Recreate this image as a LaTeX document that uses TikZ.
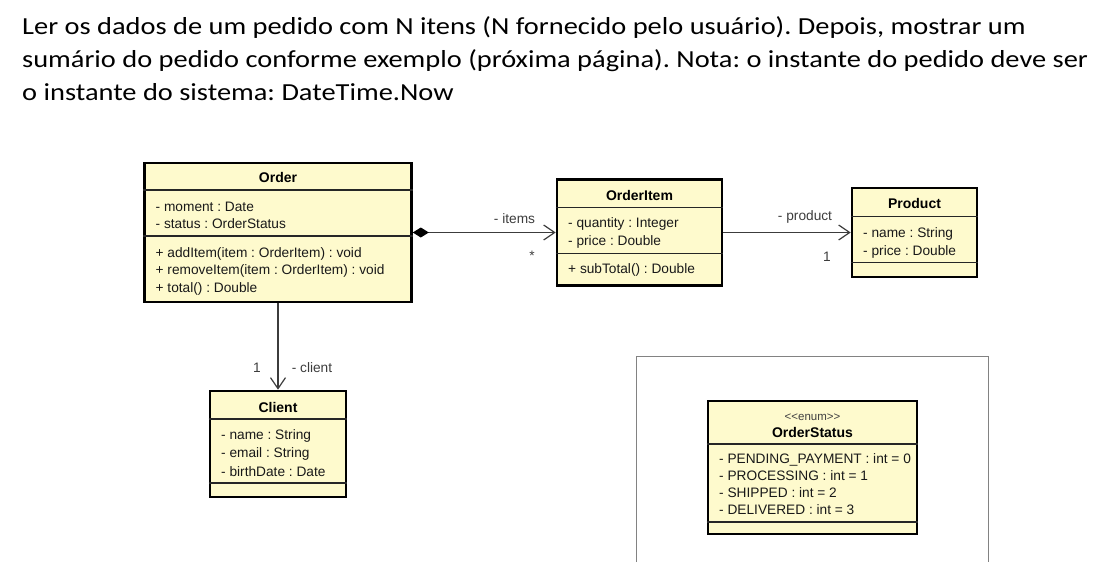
\documentclass[tikz,border=0pt]{standalone}
\usepackage{fontspec}
\setmainfont{Liberation Sans}
\newfontfamily\notefont{Carlito}[FakeStretch=1.16]
\usetikzlibrary{arrows.meta}
\definecolor{classfill}{RGB}{254,250,205}
\definecolor{linkgray}{RGB}{60,60,60}
\definecolor{framegray}{RGB}{130,130,130}
\frenchspacing

\begin{document}
\begin{tikzpicture}[x=1pt,y=-1pt]
        % styles
        \tikzstyle{classbox}=[draw=black, line width=2.6pt, fill=classfill, inner sep=0pt]
        \tikzstyle{divider}=[line width=1.1pt, black!85]
        \tikzstyle{classname}=[font=\fontsize{14}{16}\selectfont\bfseries, anchor=base, inner sep=0pt]
        \tikzstyle{member}=[font=\fontsize{13.7}{16}\selectfont, anchor=base west, inner sep=0pt, text=black!90]
        \tikzstyle{rolelabel}=[font=\fontsize{13.7}{16}\selectfont, anchor=base, inner sep=0pt, text=linkgray]
        \tikzstyle{notetext}=[font=\notefont\fontsize{24.5}{30}\selectfont, anchor=base west, inner sep=0pt]
        \tikzstyle{assoc}=[draw=linkgray, line width=1.2pt, -{Straight Barb[length=11pt,width=15pt]}]
        \tikzstyle{compos}=[assoc, {Diamond[length=16pt,width=10pt,color=black]}-{Straight Barb[length=11pt,width=15pt]}]

        \useasboundingbox (0,0) rectangle (1107,562);

        % task text
        \node[notetext] (line1) at (22,34) {Ler os dados de um pedido com N itens (N fornecido pelo usuário). Depois, mostrar um};
        \node[notetext] (line2) at (22,67) {sumário do pedido conforme exemplo (próxima página). Nota: o instante do pedido deve ser};
        \node[notetext] (line3) at (22,100) {o instante do sistema: DateTime.Now};

        % enum frame
        \draw[framegray, line width=1pt] (636.5,562) -- (636.5,356.5) -- (988,356.5) -- (988,562);

        % classes
        \node[classbox, minimum width=267pt, minimum height=139pt] (order) at (278,232.5) {};
        \node[classname] (order-name) at (278,182) {Order};
        \draw[divider] (order.west |- 0,190) -- (order.east |- 0,190);
        \node[member] (order-a1) at (155.5,211) {- moment : Date};
        \node[member] (order-a2) at (155.5,228.5) {- status : OrderStatus};
        \draw[divider] (order.west |- 0,236) -- (order.east |- 0,236);
        \node[member] (order-m1) at (155.5,257) {+ addItem(item : OrderItem) : void};
        \node[member] (order-m2) at (155.5,274.5) {+ removeItem(item : OrderItem) : void};
        \node[member] (order-m3) at (155.5,292) {+ total() : Double};

        \node[classbox, minimum width=165pt, minimum height=106pt] (orderitem) at (639.5,232.5) {};
        \node[classname] (orderitem-name) at (639.5,200) {OrderItem};
        \draw[divider] (orderitem.west |- 0,207.5) -- (orderitem.east |- 0,207.5);
        \node[member] (orderitem-a1) at (568,227) {- quantity : Integer};
        \node[member] (orderitem-a2) at (568,245) {- price : Double};
        \draw[divider] (orderitem.west |- 0,253.5) -- (orderitem.east |- 0,253.5);
        \node[member] (orderitem-m1) at (568,273) {+ subTotal() : Double};

        \node[classbox, minimum width=125pt, minimum height=89pt] (product) at (914.5,232.5) {};
        \node[classname] (product-name) at (914.5,208) {Product};
        \draw[divider] (product.west |- 0,216.5) -- (product.east |- 0,216.5);
        \node[member] (product-a1) at (863,237) {- name : String};
        \node[member] (product-a2) at (863,255) {- price : Double};
        \draw[divider] (product.west |- 0,262.5) -- (product.east |- 0,262.5);

        \node[classbox, minimum width=136pt, minimum height=106pt] (client) at (278,444) {};
        \node[classname] (client-name) at (278,412) {Client};
        \draw[divider] (client.west |- 0,419) -- (client.east |- 0,419);
        \node[member] (client-a1) at (221,439) {- name : String};
        \node[member] (client-a2) at (221,457.5) {- email : String};
        \node[member] (client-a3) at (221,476) {- birthDate : Date};
        \draw[divider] (client.west |- 0,483) -- (client.east |- 0,483);

        \node[classbox, minimum width=209pt, minimum height=133pt] (orderstatus) at (812.5,467.5) {};
        \node[classname, font=\fontsize{11.5}{13}\selectfont, text=black!75] (orderstatus-stereo) at (812.5,420) {<\kern0pt<enum>\kern0pt>};
        \node[classname] (orderstatus-name) at (812.5,437) {OrderStatus};
        \draw[divider] (orderstatus.west |- 0,444) -- (orderstatus.east |- 0,444);
        \node[member] (orderstatus-a1) at (719,463) {- PENDING\_PAYMENT : int = 0};
        \node[member] (orderstatus-a2) at (719,480) {- PROCESSING : int = 1};
        \node[member] (orderstatus-a3) at (719,497) {- SHIPPED : int = 2};
        \node[member] (orderstatus-a4) at (719,514) {- DELIVERED : int = 3};
        \draw[divider] (orderstatus.west |- 0,522) -- (orderstatus.east |- 0,522);

        % associations
        \draw[compos] (order) -- (orderitem);
        \draw[assoc] (orderitem) -- (product);
        \draw[assoc] (order) -- (client);

        % roles
        \node[rolelabel] (items-role) at (514.5,223) {- items};
        \node[rolelabel] (items-mult) at (532,260) {*};
        \node[rolelabel] (product-role) at (805,220) {- product};
        \node[rolelabel] (product-mult) at (827,261) {1};
        \node[rolelabel] (client-mult) at (257,372) {1};
        \node[rolelabel] (client-role) at (312,372) {- client};
    \end{tikzpicture}
\end{document}
